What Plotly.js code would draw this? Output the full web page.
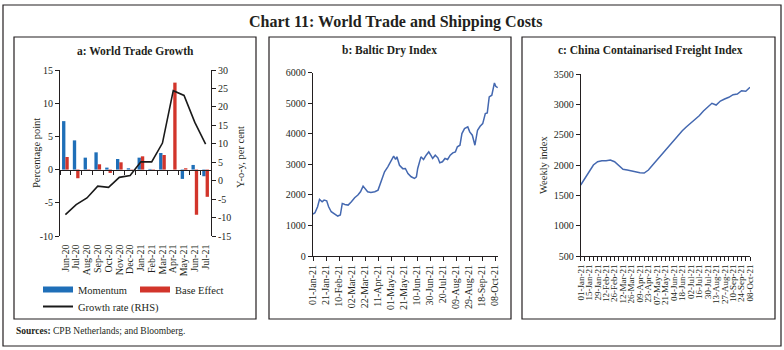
<!DOCTYPE html>
<html><head><meta charset="utf-8">
<script src="https://cdn.plot.ly/plotly-3.0.1.min.js"></script>
<style>html,body{margin:0;padding:0;background:#fff}#chart{width:784px;height:350px}</style>
</head><body><div id="chart"></div>
<script>
// ---- Panel a: World Trade Growth ----
const months = ['Jun-20','Jul-20','Aug-20','Sep-20','Oct-20','Nov-20','Dec-20','Jan-21','Feb-21','Mar-21','Apr-21','May-21','Jun-21','Jul-21'];
const momentum   = [7.3, 4.4, 1.8, 2.6, 0.3, 1.6, 0.2, 1.8, 0.1, 2.5, 0.0, -1.4, 0.7, -1.0];
const baseEffect = [1.9, -1.3, -0.1, 0.8, -0.5, 1.1, -0.05, 2.0, -0.1, 2.2, 13.1, 0.2, -6.8, -4.1];
const growthRate = [-9.2, -6.5, -4.7, -1.5, -1.8, 0.9, 1.4, 5.1, 5.1, 10.2, 24.4, 23.1, 15.8, 9.9];
const lhsTicks  = [-10, -5, 0, 5, 10, 15];
const lhsLabels = ['-10', '-5', '0', '5', '10', '15'];
const rhsTicks  = [-15, -10, -5, 0, 5, 10, 15, 20, 25, 30];
const rhsLabels = ['-15', '-10', '-5', '0', '5', '10', '15', '20', '25', '30'];

// ---- Panel b: Baltic Dry Index ----
const bdiDates = ['2021-01-01','2021-01-04','2021-01-08','2021-01-11','2021-01-15','2021-01-18','2021-01-22','2021-01-25','2021-01-29',
  '2021-02-03','2021-02-08','2021-02-12','2021-02-15','2021-02-19','2021-02-24','2021-03-01','2021-03-06','2021-03-11','2021-03-15',
  '2021-03-19','2021-03-22','2021-03-26','2021-03-31','2021-04-06','2021-04-11','2021-04-16','2021-04-21','2021-04-26','2021-05-01',
  '2021-05-05','2021-05-08','2021-05-10','2021-05-14','2021-05-19','2021-05-23','2021-05-27','2021-06-01','2021-06-06','2021-06-09',
  '2021-06-11','2021-06-16','2021-06-20','2021-06-24','2021-06-28','2021-07-02','2021-07-04','2021-07-08','2021-07-12','2021-07-15',
  '2021-07-19','2021-07-23','2021-07-27','2021-07-31','2021-08-04','2021-08-08','2021-08-11','2021-08-15','2021-08-18','2021-08-22',
  '2021-08-27','2021-08-30','2021-09-03','2021-09-07','2021-09-11','2021-09-15','2021-09-19','2021-09-23','2021-09-26','2021-09-29',
  '2021-10-03','2021-10-07','2021-10-09','2021-10-12'];
const bdiValues = [1373,1416,1612,1852,1776,1830,1808,1612,1449,
  1373,1307,1340,1721,1688,1667,1776,1906,1994,2103,
  2288,2212,2103,2081,2103,2157,2430,2757,2920,3138,
  3268,3159,3246,2970,2860,2865,2701,2593,2538,2593,
  2865,3246,3159,3300,3409,3268,3192,3300,3213,3050,
  3083,3192,3159,3300,3377,3409,3573,3627,4008,4172,
  4226,4063,3954,3627,4117,4248,4335,4662,4684,5207,
  5262,5665,5556,5512];

// ---- Panel c: China Containerised Freight Index (weekly) ----
const ccfiDates = ['2021-01-01','2021-01-08','2021-01-15','2021-01-22','2021-01-29','2021-02-05','2021-02-12','2021-02-19','2021-02-26',
  '2021-03-05','2021-03-12','2021-03-19','2021-03-26','2021-04-02','2021-04-09','2021-04-16','2021-04-23','2021-04-30','2021-05-07',
  '2021-05-14','2021-05-21','2021-05-28','2021-06-04','2021-06-11','2021-06-18','2021-06-25','2021-07-02','2021-07-09','2021-07-16',
  '2021-07-23','2021-07-30','2021-08-06','2021-08-13','2021-08-20','2021-08-27','2021-09-03','2021-09-10','2021-09-17','2021-09-24',
  '2021-10-01','2021-10-08'];
const ccfiValues = [1672,1783,1892,2002,2057,2074,2074,2085,2057,
  1986,1931,1920,1903,1892,1876,1870,1920,2002,2085,
  2151,2239,2327,2410,2493,2569,2635,2691,2745,2816,
  2894,2965,3021,2993,3059,3092,3120,3163,3175,3229,
  3220,3285];

const W = 784, H = 350;
const px = v => v / W;
const py = v => 1 - v / H;
const FONT = 'Liberation Serif, Times New Roman, serif';
const TXT = '#231f20';
const BLUE = '#1f6fb8', RED = '#d2352b', LINE = '#4468b0';
const DAY = 86400000;

const yaDom = [py(236), py(70)];
const zeroPos = yaDom[0] + (0 - lhsTicks[0]) / (lhsTicks[lhsTicks.length-1] - lhsTicks[0]) * (yaDom[1] - yaDom[0]);

const traces = [
  {type:'bar', x:months, y:momentum, name:'Momentum', marker:{color:BLUE}, xaxis:'x', yaxis:'y', showlegend:false},
  {type:'bar', x:months, y:baseEffect, name:'Base Effect', marker:{color:RED}, xaxis:'x', yaxis:'y', showlegend:false},
  {type:'scatter', mode:'lines', x:months, y:growthRate, name:'Growth rate (RHS)', line:{color:'#1a1a1a', width:1.6}, xaxis:'x', yaxis:'y2', showlegend:false},
  {type:'scatter', mode:'lines', x:[null], y:[null], name:'Momentum', line:{color:BLUE, width:6}, xaxis:'x', yaxis:'y', legend:'legend'},
  {type:'scatter', mode:'lines', x:[null], y:[null], name:'Base Effect', line:{color:RED, width:6}, xaxis:'x', yaxis:'y', legend:'legend'},
  {type:'scatter', mode:'lines', x:[null], y:[null], name:'Growth rate (RHS)', line:{color:'#1a1a1a', width:2}, xaxis:'x', yaxis:'y2', legend:'legend2'},
  {type:'scatter', mode:'lines', x:bdiDates, y:bdiValues, line:{color:LINE, width:1.5}, xaxis:'x2', yaxis:'y3', showlegend:false},
  {type:'scatter', mode:'lines', x:ccfiDates, y:ccfiValues, line:{color:LINE, width:1.5}, xaxis:'x3', yaxis:'y4', showlegend:false}
];

const axBase = {showgrid:false, zeroline:false, showline:true, linecolor:'#231f20', linewidth:1,
  ticks:'outside', ticklen:4, tickcolor:'#231f20', tickfont:{family:FONT, size:10, color:TXT}};
const titleFont = {family:FONT, size:10.5, color:TXT};

const layout = {
  width:W, height:H, margin:{l:0,r:0,t:0,b:0}, paper_bgcolor:'#fff', plot_bgcolor:'rgba(0,0,0,0)',
  font:{family:FONT, color:TXT}, barmode:'group', bargap:0.38, bargroupgap:0,
  xaxis:Object.assign({}, axBase, {domain:[px(60), px(211)], anchor:'free', position:zeroPos, type:'category',
    tickmode:'array', tickvals:months, ticktext:months,
    tickson:'boundaries', tickangle:-90, ticklabelstandoff:70, range:[-0.5, months.length-0.5]}),
  yaxis:Object.assign({}, axBase, {domain:yaDom, anchor:'x', range:[-10,15], tickvals:lhsTicks, ticktext:lhsLabels}),
  yaxis2:Object.assign({}, axBase, {overlaying:'y', side:'right', anchor:'x', range:[-15,30], tickvals:rhsTicks, ticktext:rhsLabels}),
  xaxis2:Object.assign({}, axBase, {domain:[px(312.7), px(498)], anchor:'y3', type:'date',
    range:['2020-12-31 12:00', '2021-10-12 12:00'], tick0:'2021-01-01', dtick:20*DAY, tickformat:'%d-%b-%y', tickangle:-90}),
  yaxis3:Object.assign({}, axBase, {domain:[py(256), py(72.7)], anchor:'x2', range:[0,6000], dtick:1000}),
  xaxis3:Object.assign({}, axBase, {domain:[px(580.7), px(750)], anchor:'y4', type:'date',
    range:['2021-01-01', '2021-10-08'], tick0:'2021-01-01', dtick:14*DAY, tickformat:'%d-%b-%y', tickangle:-90,
    tickfont:{family:FONT, size:9, color:TXT},
    minor:{dtick:7*DAY, tick0:'2021-01-01', ticks:'outside', ticklen:4, tickcolor:'#231f20'}}),
  yaxis4:Object.assign({}, axBase, {domain:[py(256), py(74.3)], anchor:'x3', range:[500,3500], dtick:500}),
  legend:{orientation:'h', x:px(38), y:py(275), xanchor:'left', yanchor:'top', bgcolor:'rgba(0,0,0,0)',
    font:{family:FONT, size:10.5, color:TXT}, entrywidth:52, entrywidthmode:'pixels', itemclick:false},
  legend2:{orientation:'h', x:px(38), y:py(292), xanchor:'left', yanchor:'top', bgcolor:'rgba(0,0,0,0)',
    font:{family:FONT, size:10.5, color:TXT}, itemclick:false},
  shapes:[
    {type:'rect', xref:'paper', yref:'paper', x0:px(3), x1:px(781), y0:py(346), y1:py(5), line:{color:'#231f20', width:1.2}},
    {type:'rect', xref:'paper', yref:'paper', x0:px(14), x1:px(256), y0:py(319), y1:py(37), line:{color:'#231f20', width:1.2}},
    {type:'rect', xref:'paper', yref:'paper', x0:px(269), x1:px(511), y0:py(319), y1:py(37), line:{color:'#231f20', width:1.2}},
    {type:'rect', xref:'paper', yref:'paper', x0:px(522), x1:px(775), y0:py(319), y1:py(37), line:{color:'#231f20', width:1.2}}
  ],
  annotations:[
    {text:'<b>Chart 11: World Trade and Shipping Costs</b>', xref:'paper', yref:'paper', x:px(395), y:py(22),
      xanchor:'center', yanchor:'middle', showarrow:false, font:{family:FONT, size:16, color:TXT}},
    {text:'<b>a: World Trade Growth</b>', xref:'paper', yref:'paper', x:px(135), y:py(51), xanchor:'center', yanchor:'middle',
      showarrow:false, font:{family:FONT, size:11.5, color:TXT}},
    {text:'<b>b: Baltic Dry Index</b>', xref:'paper', yref:'paper', x:px(389), y:py(51), xanchor:'center', yanchor:'middle',
      showarrow:false, font:{family:FONT, size:11.5, color:TXT}},
    {text:'<b>c: China Containarised Freight Index</b>', xref:'paper', yref:'paper', x:px(650), y:py(51), xanchor:'center', yanchor:'middle',
      showarrow:false, font:{family:FONT, size:11.5, color:TXT}},
    {text:'Percentage point', xref:'paper', yref:'paper', x:px(36), y:py(153), xanchor:'center', yanchor:'middle', textangle:-90,
      showarrow:false, font:titleFont},
    {text:'Y-o-y, per cent', xref:'paper', yref:'paper', x:px(240), y:py(157), xanchor:'center', yanchor:'middle', textangle:-90,
      showarrow:false, font:titleFont},
    {text:'Weekly index', xref:'paper', yref:'paper', x:px(543), y:py(165), xanchor:'center', yanchor:'middle', textangle:-90,
      showarrow:false, font:titleFont},
    {text:'<b>Sources:</b> CPB Netherlands; and Bloomberg.', xref:'paper', yref:'paper', x:px(14), y:py(331), xanchor:'left', yanchor:'middle',
      showarrow:false, font:{family:FONT, size:9.5, color:TXT}}
  ]
};

Plotly.newPlot('chart', traces, layout, {staticPlot:true, displayModeBar:false});
</script></body></html>
